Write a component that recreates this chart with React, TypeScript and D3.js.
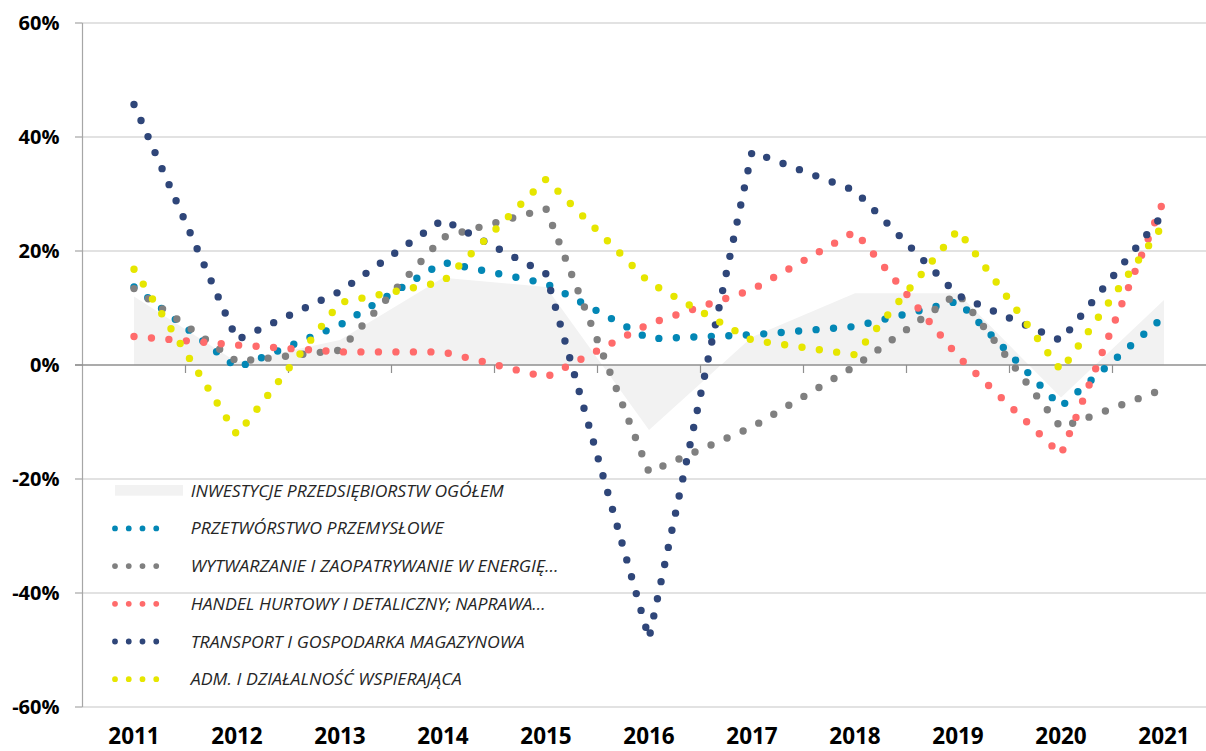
import React from 'react';
import * as d3 from 'd3';

const W = 1206;
const H = 751;

const years = ['2011', '2012', '2013', '2014', '2015', '2016', '2017', '2018', '2019', '2020', '2021'];
const yTicks = [60, 40, 20, 0, -20, -40, -60];

const inwestycje = [12, 0.5, 4.4, 15.3, 13.7, -11.4, 4.9, 12.6, 12.6, -5.7, 11.4];
const przetworstwo = [13.7, -0.5, 7, 18, 14.3, 4.6, 5.3, 6.75, 11.2, -7.3, 8.5];
const wytwarzanie = [13.4, 0.6, 2.6, 22.4, 27.4, -18.8, -10.9, -0.2, 12.6, -11, -4.2];
const handel = [5, 3.5, 2.3, 2.3, -2.15, 7.2, 13.2, 23.4, 1.5, -15.7, 29];
const transport = [45.7, 4.4, 12.9, 25.5, 16, -48, 37.4, 30.6, 12.2, 4.3, 26.6];
const adm = [16.8, -12.25, 10.95, 14.6, 32.6, 14.5, 4.35, 1.8, 23.7, -1, 24.8];

const areaLabel = 'INWESTYCJE PRZEDSIĘBIORSTW OGÓŁEM';
const lineLabels = [
  'PRZETWÓRSTWO PRZEMYSŁOWE',
  'WYTWARZANIE I ZAOPATRYWANIE W ENERGIĘ…',
  'HANDEL HURTOWY I DETALICZNY; NAPRAWA…',
  'TRANSPORT I GOSPODARKA MAGAZYNOWA',
  'ADM. I DZIAŁALNOŚĆ WSPIERAJĄCA',
];
const lineSeries = [przetworstwo, wytwarzanie, handel, transport, adm];
const lineColors = ['#0387b5', '#808080', '#ff6b6b', '#2f4679', '#e6e600'];
const legendWidths = [313, 253, 368, 355, 334, 271];

const FONT = "'Open Sans', 'Noto Sans', sans-serif";

export default function App() {
  const x = d3
    .scaleBand<string>()
    .domain(years)
    .range([82.5, 82.5 + 103 * years.length])
    .paddingInner(0)
    .paddingOuter(0);
  const cx = (i: number) => (x(years[i]) as number) + x.bandwidth() / 2;
  const y = d3.scaleLinear().domain([-60, 60]).range([707, 23]);

  const line = d3
    .line<number>()
    .x((_, i) => cx(i))
    .y((d) => y(d))
    .curve(d3.curveLinear);
  const area = d3
    .area<number>()
    .x((_, i) => cx(i))
    .y0(y(0))
    .y1((d) => y(d))
    .curve(d3.curveLinear);

  const axisLeft = 82.5;
  const legendX = 115;
  const legendTextX = 190.7;
  const legendBase = 496.7;
  const legendStep = 37.7;

  return (
    <svg
      width={W}
      height={H}
      viewBox={`0 0 ${W} ${H}`}
      style={{ position: 'absolute', left: 0, top: 0, display: 'block', background: '#fff' }}
    >
      {/* gridlines */}
      {yTicks.map((t) => (
        <g key={'g' + t}>
          {t !== 0 && (
            <line x1={axisLeft} x2={W} y1={y(t)} y2={y(t)} stroke="#d9d9d9" strokeWidth={1.4} />
          )}
          <line x1={75} x2={axisLeft} y1={y(t)} y2={y(t)} stroke="#a6a6a6" strokeWidth={1.2} />
          <text
            x={59.5}
            y={y(t) + 7.4}
            textAnchor="end"
            fontFamily={FONT}
            fontWeight={700}
            fontSize={20}
            fill="#000"
          >
            {`${t}%`}
          </text>
        </g>
      ))}

      {/* area */}
      <path d={area(inwestycje) || ''} fill="#f2f2f2" stroke="none" />

      {/* y axis line */}
      <line x1={axisLeft} x2={axisLeft} y1={y(60)} y2={y(-60)} stroke="#a6a6a6" strokeWidth={1.2} />

      {/* zero (category) axis */}
      <line x1={75} x2={W} y1={y(0)} y2={y(0)} stroke="#8f8f8f" strokeWidth={1.6} />
      {years.slice(1).map((yr) => (
        <line
          key={'t' + yr}
          x1={x(yr) as number}
          x2={x(yr) as number}
          y1={y(0)}
          y2={y(0) + 8}
          stroke="#8f8f8f"
          strokeWidth={1.2}
        />
      ))}

      {/* lines */}
      {lineSeries.map((s, i) => (
        <path
          key={'l' + i}
          d={line(s) || ''}
          fill="none"
          stroke={lineColors[i]}
          strokeWidth={7.4}
          strokeLinecap="round"
          strokeLinejoin="round"
          strokeDasharray="0 17.5"
        />
      ))}

      {/* x labels */}
      {years.map((yr, i) => (
        <text
          key={'x' + yr}
          x={cx(i)}
          y={744}
          textAnchor="middle"
          fontFamily={FONT}
          fontWeight={700}
          fontSize={22.5}
          fill="#000"
        >
          {yr}
        </text>
      ))}

      {/* legend */}
      <g>
        <rect x={legendX} y={legendBase - 11.7} width={68} height={10.7} fill="#f2f2f2" />
        <text
          x={legendTextX}
          y={legendBase}
          fontFamily={FONT}
          fontStyle="italic"
          fontSize={16.5}
          fill="#262626"
          textLength={legendWidths[0]}
          lengthAdjust="spacingAndGlyphs"
        >
          {areaLabel}
        </text>
        {lineLabels.map((lab, i) => {
          const by = legendBase + (i + 1) * legendStep;
          const cy = by - 6;
          return (
            <g key={'lg' + i}>
              <line
                x1={legendX}
                x2={legendX + 13.75 * 4}
                y1={cy}
                y2={cy}
                stroke={lineColors[i]}
                strokeWidth={5.8}
                strokeLinecap="round"
                strokeDasharray="0 13.75"
              />
              <text
                x={legendTextX}
                y={by}
                fontFamily={FONT}
                fontStyle="italic"
                fontSize={16.5}
                fill="#262626"
                textLength={legendWidths[i + 1]}
                lengthAdjust="spacingAndGlyphs"
              >
                {lab}
              </text>
            </g>
          );
        })}
      </g>
    </svg>
  );
}
